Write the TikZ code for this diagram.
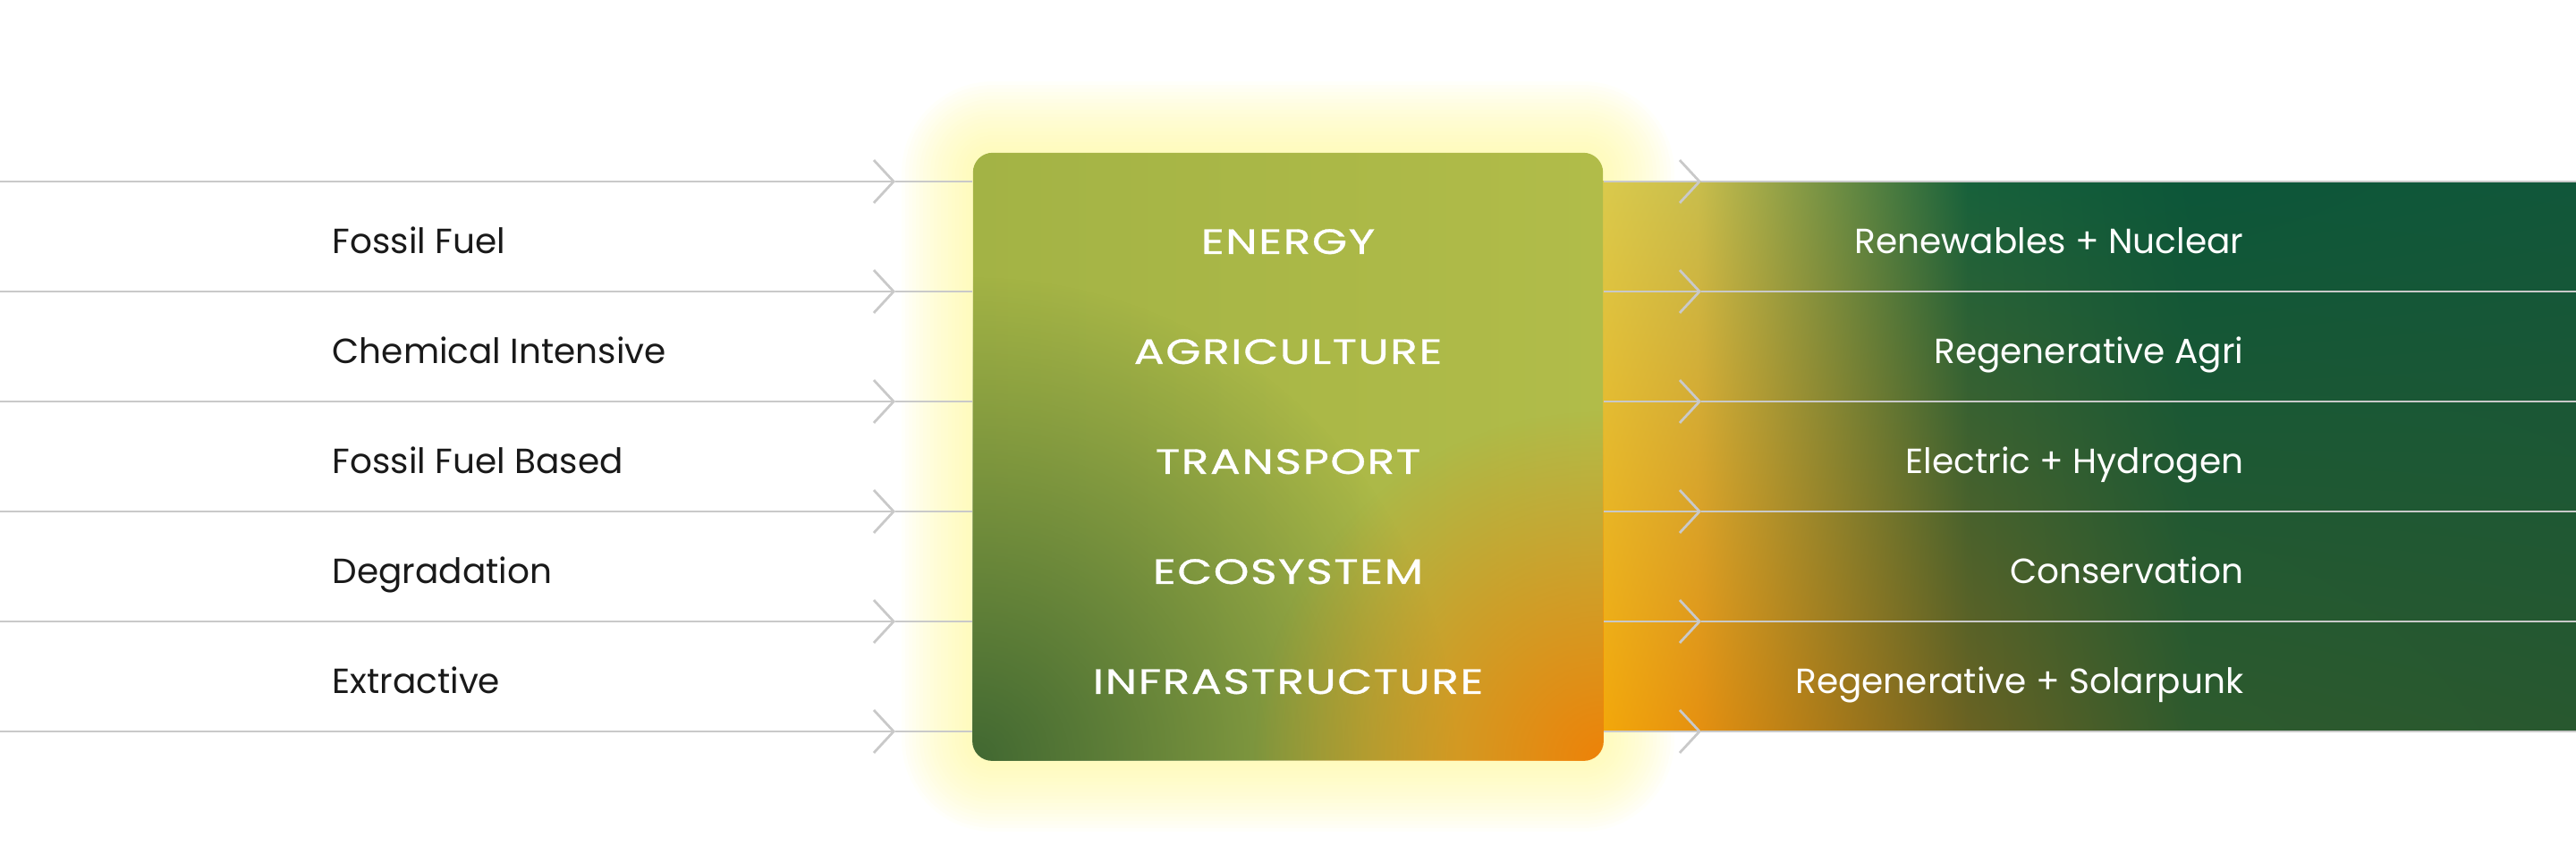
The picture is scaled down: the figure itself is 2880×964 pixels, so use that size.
\documentclass[tikz,border=0pt]{standalone}
\usepackage{fontspec}
\setmainfont{Poppins}
\newfontfamily\sectorfont[FakeStretch=1.28, FakeBold=0.8, LetterSpace=4]{Poppins}
\usetikzlibrary{arrows.meta,fadings,shadings}

\definecolor{rulegray}{HTML}{C9C9C9}
\definecolor{glowyellow}{HTML}{FFF890}
\definecolor{boxleft}{HTML}{A3B345}
\definecolor{boxright}{HTML}{B1BC49}
\definecolor{boxgreen}{HTML}{416832}
\definecolor{boxorange}{HTML}{EE8208}
\definecolor{bandyellow}{HTML}{DCCB4C}
\definecolor{bandorange}{HTML}{F4AA0A}
\definecolor{bandolive}{HTML}{C8BD4C}
\definecolor{bandamber}{HTML}{E59010}
\definecolor{bandgreen}{HTML}{17613B}
\definecolor{bandbrown}{HTML}{6A6222}
\definecolor{banddeep}{HTML}{0C5639}
\definecolor{bandmoss}{HTML}{2E5A2D}
\definecolor{bandpine}{HTML}{11573A}
\definecolor{bandforest}{HTML}{28582F}

\tikzfading[name=cornerfade, inner color=transparent!0, outer color=transparent!100]

\tikzset{
	flow/.style={draw=rulegray, line width=0.8pt},
	chevron/.style={flow, -{Straight Barb[length=6.3pt, width=13.6pt]}},
	labelfont/.style={font=\fontsize{11.1}{13.5}\selectfont, inner sep=0pt},
	oldtext/.style={labelfont, anchor=base west, text=black!90},
	sectortext/.style={anchor=base, inner sep=0pt, text=white, font=\sectorfont\fontsize{11.2}{13.5}\selectfont},
	newtext/.style={labelfont, anchor=base east, text=white},
	sectorbox/.style={minimum width=7.04cm, minimum height=6.79cm, inner sep=0pt, rounded corners=0.22cm, left color=boxleft, right color=boxright},
}

\begin{document}
\begin{tikzpicture}[x=0.01cm, y=-0.01cm]
		\useasboundingbox (0,0) rectangle (2880,964);
		
		% glow round the box
		\foreach \r in {80,76,...,2} {
			\pgfmathsetmacro\rc{(22+\r)*0.2845}
			\fill[glowyellow, fill opacity=0.045, rounded corners=\rc pt] (1088-\r,171-\r) rectangle (1792+\r,850+\r);
		}
		
		% band on the right
		\shade[upper left=bandyellow, upper right=bandolive, lower left=bandorange, lower right=bandamber] (1780,203) rectangle (1900,818);
		\shade[upper left=bandolive, upper right=bandgreen, lower left=bandamber, lower right=bandbrown] (1899,203) rectangle (2200,818);
		\shade[upper left=bandgreen, upper right=banddeep, lower left=bandbrown, lower right=bandmoss] (2199,203) rectangle (2450,818);
		\shade[upper left=banddeep, upper right=bandpine, lower left=bandmoss, lower right=bandforest] (2449,203) rectangle (2880,818);
		
		% box
		\node[sectorbox] (sectors) at (1440,510.5) {};
		\begin{scope}
			\clip[rounded corners=0.22cm] (sectors.south west) rectangle (sectors.north east);
			\fill[boxgreen, path fading=cornerfade] (1088,850) circle (540);
			\fill[boxorange, path fading=cornerfade] (1792,850) circle (390);
		\end{scope}
		
		% lines in
		\coordinate (in1) at (0,203);
		\coordinate (in2) at (0,326);
		\coordinate (in3) at (0,449);
		\coordinate (in4) at (0,572);
		\coordinate (in5) at (0,695);
		\coordinate (in6) at (0,818);
		\coordinate (cin1) at (1001,203);
		\coordinate (cin2) at (1001,326);
		\coordinate (cin3) at (1001,449);
		\coordinate (cin4) at (1001,572);
		\coordinate (cin5) at (1001,695);
		\coordinate (cin6) at (1001,818);
		\draw[chevron] (in1) -- (cin1);
		\draw[chevron] (in2) -- (cin2);
		\draw[chevron] (in3) -- (cin3);
		\draw[chevron] (in4) -- (cin4);
		\draw[chevron] (in5) -- (cin5);
		\draw[chevron] (in6) -- (cin6);
		\draw[flow] (cin1) -- (cin1 -| sectors.west);
		\draw[flow] (cin2) -- (cin2 -| sectors.west);
		\draw[flow] (cin3) -- (cin3 -| sectors.west);
		\draw[flow] (cin4) -- (cin4 -| sectors.west);
		\draw[flow] (cin5) -- (cin5 -| sectors.west);
		\draw[flow] (cin6) -- (cin6 -| sectors.west);
		
		% lines out
		\coordinate (cout1) at (1902,203);
		\coordinate (cout2) at (1902,326);
		\coordinate (cout3) at (1902,449);
		\coordinate (cout4) at (1902,572);
		\coordinate (cout5) at (1902,695);
		\coordinate (cout6) at (1902,818);
		\coordinate (out1) at (2880,203);
		\coordinate (out2) at (2880,326);
		\coordinate (out3) at (2880,449);
		\coordinate (out4) at (2880,572);
		\coordinate (out5) at (2880,695);
		\coordinate (out6) at (2880,818);
		\draw[chevron] (cout1 -| sectors.east) -- (cout1);
		\draw[chevron] (cout2 -| sectors.east) -- (cout2);
		\draw[chevron] (cout3 -| sectors.east) -- (cout3);
		\draw[chevron] (cout4 -| sectors.east) -- (cout4);
		\draw[chevron] (cout5 -| sectors.east) -- (cout5);
		\draw[chevron] (cout6 -| sectors.east) -- (cout6);
		\draw[flow] (cout1) -- (out1);
		\draw[flow] (cout2) -- (out2);
		\draw[flow] (cout3) -- (out3);
		\draw[flow] (cout4) -- (out4);
		\draw[flow] (cout5) -- (out5);
		\draw[flow] (cout6) -- (out6);
		
		% labels
		\node[oldtext] (old1) at (371,284) {Fossil Fuel};
		\node[oldtext] (old2) at (371,407) {Chemical Intensive};
		\node[oldtext] (old3) at (371,530) {Fossil Fuel Based};
		\node[oldtext] (old4) at (371,653) {Degradation};
		\node[oldtext] (old5) at (371,776) {Extractive};
		
		\node[sectortext] (sec1) at (1440,284) {ENERGY};
		\node[sectortext] (sec2) at (1440,407) {AGRICULTURE};
		\node[sectortext] (sec3) at (1440,530) {TRANSPORT};
		\node[sectortext] (sec4) at (1440,653) {ECOSYSTEM};
		\node[sectortext] (sec5) at (1440,776) {INFRASTRUCTURE};
		
		\node[newtext] (new1) at (2509,284) {Renewables + Nuclear};
		\node[newtext] (new2) at (2509,407) {Regenerative Agri};
		\node[newtext] (new3) at (2509,530) {Electric + Hydrogen};
		\node[newtext] (new4) at (2509,653) {Conservation};
		\node[newtext] (new5) at (2509,776) {Regenerative + Solarpunk};
\end{tikzpicture}
\end{document}
